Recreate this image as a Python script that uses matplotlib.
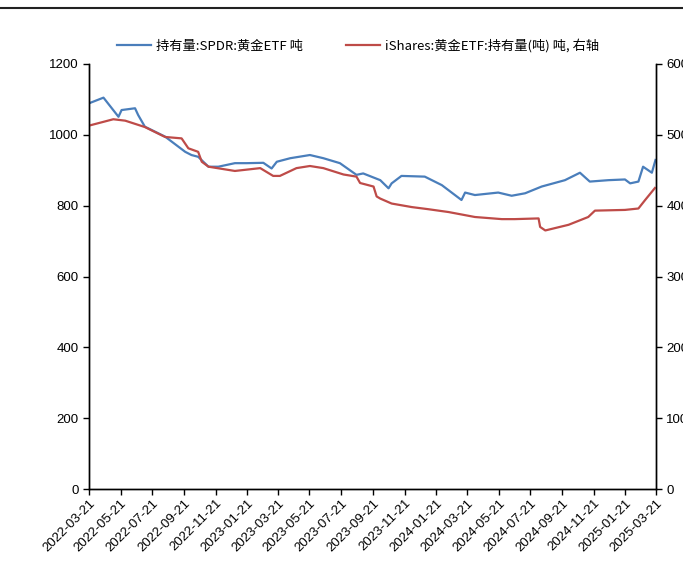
import matplotlib
matplotlib.use("Agg")
import matplotlib.pyplot as plt
import matplotlib.dates as mdates
from matplotlib.lines import Line2D
import pandas as pd

plt.rcParams['font.family'] = ['Liberation Sans', 'Noto Sans CJK SC', 'DejaVu Sans']

# SPDR 黄金ETF 持有量 (吨), left axis
spdr_dates = ["2022-03-21", "2022-04-18", "2022-05-17", "2022-05-23", "2022-06-18",
              "2022-06-24", "2022-07-07", "2022-08-15", "2022-09-23", "2022-10-05",
              "2022-10-18", "2022-11-07", "2022-11-26", "2022-12-28", "2023-01-20",
              "2023-02-21", "2023-03-09", "2023-03-19", "2023-04-14", "2023-05-22",
              "2023-06-17", "2023-07-19", "2023-08-20", "2023-09-02", "2023-10-05",
              "2023-10-21", "2023-10-27", "2023-11-15", "2023-12-30", "2024-02-01",
              "2024-03-10", "2024-03-17", "2024-04-05", "2024-05-20", "2024-06-15",
              "2024-07-11", "2024-08-12", "2024-09-26", "2024-10-25", "2024-11-13",
              "2024-12-19", "2025-01-20", "2025-01-30", "2025-02-15", "2025-02-24",
              "2025-03-13", "2025-03-20"]
spdr_values = [1089, 1105, 1051, 1070, 1075, 1056, 1023, 995, 952, 943,
               938, 910, 910, 920, 920, 921, 905, 924, 934, 943,
               934, 920, 887, 891, 872, 849, 863, 884, 882, 858,
               816, 837, 830, 837, 828, 835, 854, 872, 893, 868,
               872, 874, 863, 868, 910, 893, 929]

# iShares 黄金ETF 持有量 (吨), right axis
ishares_dates = ["2022-03-21", "2022-05-07", "2022-05-30", "2022-07-07", "2022-08-15",
                 "2022-09-16", "2022-09-29", "2022-10-18", "2022-10-25", "2022-11-07",
                 "2022-12-28", "2023-02-15", "2023-03-12", "2023-03-25", "2023-04-26",
                 "2023-05-22", "2023-06-17", "2023-07-26", "2023-08-20", "2023-08-27",
                 "2023-09-22", "2023-09-28", "2023-10-05", "2023-10-27", "2023-12-05",
                 "2024-01-06", "2024-02-14", "2024-04-05", "2024-05-27", "2024-06-21",
                 "2024-08-06", "2024-08-09", "2024-08-19", "2024-10-03", "2024-11-10",
                 "2024-11-23", "2025-01-20", "2025-02-15", "2025-02-28", "2025-03-19"]
ishares_values = [513, 522, 520, 511, 497, 495, 481, 476, 462, 455,
                  449, 453, 442, 442, 453, 456, 453, 444, 441, 432,
                  427, 413, 410, 403, 398, 395, 391, 384, 381, 381,
                  382, 370, 365, 373, 384, 393, 394, 396, 408, 425]

tick_dates = pd.date_range("2022-03-01", "2025-03-01", freq="2MS") + pd.Timedelta(days=20)

spdr_label = "持有量:SPDR:黄金ETF 吨"
ishares_label = "iShares:黄金ETF:持有量(吨) 吨, 右轴"

fig = plt.figure(figsize=(6.83, 5.87), dpi=100)
ax = fig.add_axes([89 / 683, 1 - 489 / 587, (656 - 89) / 683, (489 - 64) / 587])
ax2 = ax.twinx()

ax.plot(pd.to_datetime(spdr_dates), spdr_values, color="#4A7EBB", lw=1.6)
ax2.plot(pd.to_datetime(ishares_dates), ishares_values, color="#BE4B48", lw=1.6)

ax.set_ylim(0, 1200)
ax.set_yticks(range(0, 1201, 200))
ax2.set_ylim(0, 600)
ax2.set_yticks(range(0, 601, 100))
ax.set_xlim(pd.Timestamp("2022-03-21"), pd.Timestamp("2025-03-21"))
ax.set_xticks(tick_dates)
ax.xaxis.set_major_formatter(mdates.DateFormatter("%Y-%m-%d"))
for lbl in ax.get_xticklabels():
    lbl.set_rotation(45)
    lbl.set_ha("right")
    lbl.set_rotation_mode("anchor")

for a in (ax, ax2):
    a.spines["top"].set_visible(False)
    for s in ("left", "right", "bottom"):
        a.spines[s].set_linewidth(1.0)
    a.tick_params(labelsize=9.5, length=4, width=1.0, colors="black")
ax.tick_params(axis="x", pad=2)

handles = [Line2D([], [], color="#4A7EBB", lw=1.6),
           Line2D([], [], color="#BE4B48", lw=1.6)]
fig.legend(handles, [spdr_label, ishares_label], loc="center",
           bbox_to_anchor=(358 / 683, 1 - 46 / 587), ncol=2, frameon=False,
           handlelength=2.6, columnspacing=3.2, handletextpad=0.4,
           prop={"family": ["Noto Sans CJK SC", "DejaVu Sans"], "size": 9.5})

fig.add_artist(Line2D([0, 1], [1 - 8 / 587, 1 - 8 / 587], color="#222222", lw=1.5))

fig.savefig("out.png", dpi=100)
